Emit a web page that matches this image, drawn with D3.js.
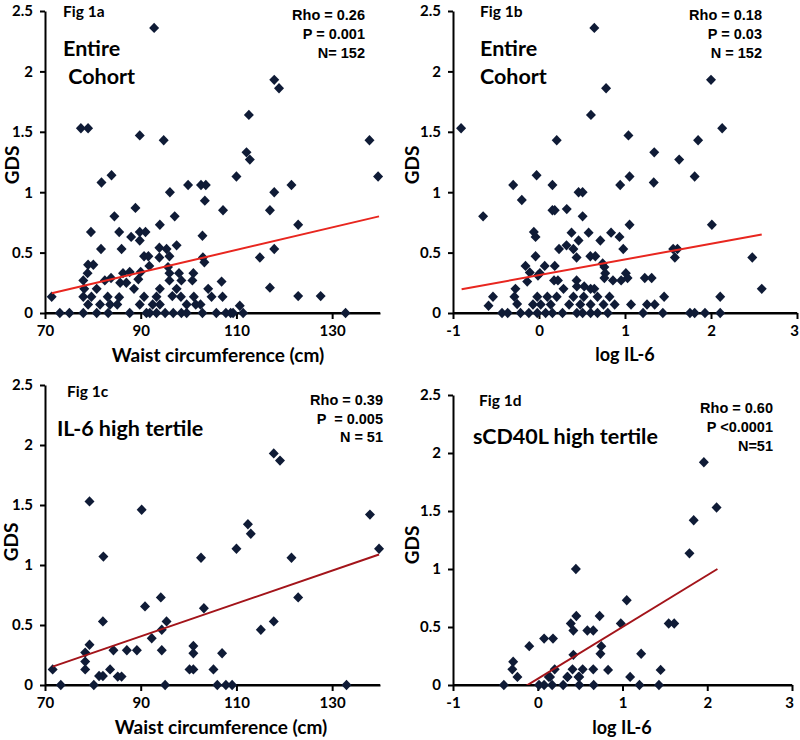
<!DOCTYPE html>
<html><head><meta charset="utf-8">
<script src="https://cdn.jsdelivr.net/npm/d3@7"></script>
<style>
body{margin:0;background:#fff;}
svg{display:block;}
</style></head><body>
<svg id="chart" width="800" height="740"></svg>
<script>
// ---------------- DATA ----------------
const gdsTicks = [0, 0.5, 1, 1.5, 2, 2.5];
const waistTicks = [70, 90, 110, 130];
const il6Ticks = [-1, 0, 1, 2, 3];

// Fig 1a: waist circumference (cm) vs GDS, entire cohort
const waistAll = [
  [92.8,2.36],[117.9,1.93],[118.9,1.86],[112.6,1.64],[77.5,1.53],[79.0,1.53],[89.8,1.47],[94.8,1.43],[137.8,1.43],[112.1,1.33],[112.8,1.27],
  [139.6,1.13],[110.0,1.13],[83.9,1.14],[81.8,1.08],[99.9,1.06],[102.6,1.06],[103.6,1.06],[121.5,1.06],[96.1,1.0],[117.9,1.0],[103.4,0.93],
  [107.2,0.85],[117.0,0.85],[88.9,0.87],[84.5,0.8],[97.1,0.8],[94.0,0.73],[122.9,0.73],
  [79.6,0.67],[85.5,0.67],[89.8,0.67],[91.0,0.67],[88.0,0.63],[89.8,0.6],[102.9,0.64],
  [81.7,0.53],[86.0,0.53],[93.9,0.54],[95.4,0.53],[97.5,0.56],[117.9,0.53],
  [90.7,0.47],[91.6,0.47],[93.9,0.46],[96.0,0.47],[103.0,0.46],[103.3,0.42],[114.9,0.46],
  [79.0,0.4],[80.1,0.4],[91.8,0.39],[95.7,0.38],
  [78.9,0.33],[90.0,0.34],[98.0,0.33],[101.0,0.33],[86.3,0.33],[87.7,0.34],[96.0,0.33],
  [78.0,0.27],[83.8,0.29],[85.7,0.25],[87.0,0.25],[89.5,0.28],[96.0,0.27],[100.8,0.27],[106.9,0.26],[82.5,0.27],[98.5,0.27],
  [78.2,0.2],[80.8,0.2],[88.6,0.2],[94.0,0.2],[97.5,0.2],[104.1,0.2],[117.0,0.21],
  [71.4,0.135],[78.0,0.135],[79.7,0.135],[83.1,0.135],[85.5,0.13],[90.7,0.135],[93.3,0.135],[96.6,0.14],[98.4,0.135],[101.1,0.135],
  [104.8,0.135],[107.1,0.135],[122.9,0.14],[127.6,0.14],
  [79.0,0.07],[81.5,0.07],[83.6,0.07],[85.1,0.07],[89.8,0.07],[92.5,0.07],[94.0,0.07],[99.6,0.07],[101.5,0.07],[102.5,0.07],[110.7,0.06],
  [73.1,0],[75.1,0],[78.0,0],[80.8,0],[83.2,0],[87.7,0],[91.2,0],[91.9,0],[93.3,0],[95.1,0],[96.8,0],[98.5,0],[99.6,0],[102.9,0],
  [105.8,0],[107.8,0],[108.8,0],[109.3,0],[111.4,0],[132.8,0]
];

// Fig 1b: log IL-6 vs GDS, entire cohort
const il6All = [
  [-0.906,1.53],[0.643,2.36],[0.78,1.86],[0.604,1.64],[2.0,1.93],[2.13,1.53],[0.206,1.43],[1.04,1.47],[1.85,1.43],[1.34,1.33],[1.63,1.27],
  [-0.028,1.14],[-0.3,1.06],[0.156,1.06],[-0.2,0.935],[0.46,1.0],[0.507,1.0],[0.944,1.06],[1.053,1.13],[1.334,1.08],[1.81,1.13],
  [-0.65,0.80],[0.156,0.85],[0.183,0.85],[0.323,0.86],[0.507,0.80],
  [-0.06,0.67],[-0.04,0.63],[0.378,0.665],[0.577,0.665],[0.838,0.665],[0.936,0.63],[1.053,0.73],[2.01,0.73],
  [0.233,0.53],[0.32,0.56],[0.40,0.53],[0.46,0.60],[0.713,0.60],[0.98,0.53],[1.58,0.46],[1.61,0.53],[1.56,0.53],[2.48,0.46],
  [-0.04,0.47],[0.437,0.46],[0.597,0.47],[0.655,0.47],
  [-0.157,0.39],[0.066,0.39],[0.183,0.39],[0.74,0.41],[0.76,0.38],
  [-0.107,0.335],[0.01,0.33],[-0.012,0.31],[0.77,0.33],[1.01,0.33],
  [1.23,0.29],[1.31,0.29],[1.03,0.29],[0.86,0.27],[0.76,0.29],[0.175,0.27],[0.22,0.27],[-0.137,0.26],[0.437,0.27],[0.955,0.27],
  [-0.274,0.20],[0.285,0.20],[0.44,0.22],[0.526,0.22],[0.60,0.20],[0.643,0.20],[2.59,0.20],
  [-0.535,0.135],[-0.286,0.135],[-0.02,0.135],[0.097,0.135],[0.206,0.135],[0.40,0.135],[0.52,0.135],[0.68,0.135],[0.82,0.135],[1.455,0.135],[2.107,0.135],
  [-0.587,0.06],[-0.254,0.075],[-0.07,0.07],[0.02,0.07],[0.136,0.07],[0.35,0.07],[0.48,0.07],[0.60,0.07],[0.75,0.07],[0.88,0.07],[1.07,0.07],[1.256,0.07],[1.345,0.07],
  [-0.43,0],[-0.364,0],[-0.215,0],[-0.118,0],[-0.02,0],[0.077,0],[0.156,0],[0.273,0],[0.44,0],[0.507,0],[0.6,0],[0.68,0],[0.8,0],
  [1.21,0],[1.44,0],[1.755,0],[1.81,0],[1.93,0],[2.107,0]
];

// Fig 1c: waist circumference vs GDS, IL-6 high tertile
const waistHighIL6 = [
  [71.6,0.13],[73.3,0],[78.4,0.13],[78.4,0.195],[78.4,0.27],[79.3,0.335],[79.3,1.53],[80.2,0],[81.3,0.075],[82.1,0.075],
  [82.1,0.53],[82.2,1.07],[83.6,0.13],[84.3,0.29],[85.2,0.07],[86.0,0.07],[87.1,0.29],[89.2,0.29],[90.2,1.46],[90.9,0.655],
  [92.3,0.39],[94.2,0.73],[94.4,0.46],[94.4,0.29],[95.1,0],[95.4,0.53],[100.2,0.13],[101.0,0.325],[101.0,0.265],[101.0,0.13],
  [102.6,1.06],[103.2,0.64],[105.2,0.13],[106.0,0],[107.0,0.265],[107.8,0],[109.1,0],[110.0,1.135],[112.4,1.34],[113.0,1.26],
  [115.1,0.46],[117.8,1.93],[119.1,1.87],[117.8,0.53],[121.5,1.06],[122.9,0.73],[133.0,0],[137.9,1.42],[139.8,1.135]
];

// Fig 1d: log IL-6 vs GDS, sCD40L high tertile
const il6HighCD40 = [
  [-0.40,0],[-0.29,0.20],[-0.30,0.135],[-0.24,0.07],[-0.10,0.335],[0.015,0],[0.075,0],[0.17,0],[0.075,0.40],[0.18,0.40],
  [0.13,0.07],[0.2,0.135],[0.30,0],[0.35,0.07],[0.39,0.53],[0.41,0.135],[0.42,0.26],[0.42,0.47],[0.45,1.0],[0.455,0.595],
  [0.49,0],[0.49,0.07],[0.53,0.135],[0.585,0.47],[0.655,0.47],[0.655,0.135],[0.66,0],[0.73,0.595],[0.75,0.335],[0.74,0.27],
  [0.83,0.13],[0.98,0.53],[1.05,0.73],[1.09,0.07],[1.20,0],[1.22,0.27],[1.43,0],[1.45,0.13],[1.545,0.53],[1.61,0.53],
  [1.79,1.135],[1.84,1.42],[1.96,1.92],[2.11,1.53],[0.145,0.07],[0.48,0.07],[0.35,0.07]
];

// Linear trend lines (endpoints)
const trendA = [[71.4,0.163],[139.8,0.80]];
const trendB = [[-0.9,0.196],[2.59,0.65]];
const trendC = [[71.6,0.153],[139.8,1.087]];
const trendD = [[-0.40,-0.125],[2.12,1.0]];

const figLabels = ["Fig 1a", "Fig 1b", "Fig 1c", "Fig 1d"];
const groupLabels = [["Entire", " Cohort"], ["Entire", "Cohort"], ["IL-6 high tertile"], ["sCD40L high tertile"]];
const statsLabels = [
  ["Rho = 0.26", "P = 0.001", "N= 152"],
  ["Rho = 0.18", "P = 0.03", "N = 152"],
  ["Rho = 0.39", "P  = 0.005", "N = 51"],
  ["Rho = 0.60", "P <0.0001", "N=51"]
];
const xTitles = ["Waist circumference (cm)", "log IL-6", "Waist circumference (cm)", "log IL-6"];
const yTitle = "GDS";

// ---------------- LAYOUT ----------------
const panels = [
  {data: waistAll, trend: trendA, xDom:[70,140], xTicks: waistTicks, l:45, r:380, t:11, b:313, line:"#e8261f",
   fig:[63,17], grp:[[63,56],[63,84]], stats:[365,20,19], gdsX:19, gdsY:165, xTitleX:218, xTitleY:362, xTitleSize:19},
  {data: il6All, trend: trendB, xDom:[-1,3], xTicks: il6Ticks, l:453, r:797, t:11, b:313, line:"#e8261f",
   fig:[480,17], grp:[[480,56],[480,84]], stats:[762,20,19], gdsX:419, gdsY:165, xTitleX:625, xTitleY:361, xTitleSize:18},
  {data: waistHighIL6, trend: trendC, xDom:[70,140], xTicks: waistTicks, l:45, r:380, t:385, b:685, line:"#a3141a",
   fig:[67,397], grp:[[57,436]], stats:[383,405,18.5], gdsX:18, gdsY:542, xTitleX:221, xTitleY:734, xTitleSize:19},
  {data: il6HighCD40, trend: trendD, xDom:[-1,3], xTicks: il6Ticks, l:453, r:792, t:395, b:685, line:"#a3141a",
   fig:[479,406], grp:[[473,444]], stats:[773,413,19], gdsX:419, gdsY:545, xTitleX:622, xTitleY:734, xTitleSize:18}
];

const svg = d3.select("#chart");
const tickFont = "Lato, 'DejaVu Sans', sans-serif";
const statFont = "'Liberation Sans', Arial, sans-serif";

panels.forEach((p, i) => {
  const x = d3.scaleLinear().domain(p.xDom).range([p.l, p.r]);
  const y = d3.scaleLinear().domain([0, 2.5]).range([p.b, p.t]);
  const g = svg.append("g");

  const clipId = "clip" + i;
  svg.append("clipPath").attr("id", clipId).append("rect")
    .attr("x", p.l).attr("y", p.t).attr("width", p.r - p.l).attr("height", p.b - p.t);

  const yAx = g.append("g").attr("transform", `translate(${p.l},0)`)
    .call(d3.axisLeft(y).tickValues(gdsTicks).tickSize(5).tickSizeOuter(0).tickPadding(7).tickFormat(d => d));
  const xAx = g.append("g").attr("transform", `translate(0,${p.b})`)
    .call(d3.axisBottom(x).tickValues(p.xTicks).tickSize(6).tickSizeOuter(0).tickPadding(6).tickFormat(d => d));
  [yAx, xAx].forEach(ax => {
    ax.select(".domain").attr("stroke", "#000").attr("stroke-width", 2);
    ax.selectAll(".tick line").attr("stroke", "#000").attr("stroke-width", 2);
    ax.selectAll(".tick text").attr("fill", "#000").style("font-family", tickFont)
      .style("font-weight", "bold").style("font-size", "15px");
  });
  // keep the rightmost tick label inside the picture
  xAx.selectAll(".tick text").filter(d => x(d) > 785).attr("dx", -3);
  g.append("line").attr("x1", p.l).attr("x2", p.r).attr("y1", p.b).attr("y2", p.b)
    .attr("stroke", "#000").attr("stroke-width", 2);

  g.append("g").selectAll("path").data(p.data).join("path")
    .attr("d", "M0,-5.2L5,0L0,5.2L-5,0Z")
    .attr("transform", d => `translate(${x(d[0])},${y(d[1])})`)
    .attr("fill", "#0f1b36");

  g.append("line").attr("clip-path", `url(#${clipId})`)
    .attr("x1", x(p.trend[0][0])).attr("y1", y(p.trend[0][1]))
    .attr("x2", x(p.trend[1][0])).attr("y2", y(p.trend[1][1]))
    .attr("stroke", p.line).attr("stroke-width", 2);

  g.append("text").attr("x", p.fig[0]).attr("y", p.fig[1]).text(figLabels[i])
    .style("font-family", tickFont).style("font-weight", "bold").style("font-size", "15.5px");
  groupLabels[i].forEach((t, k) => {
    g.append("text").attr("x", p.grp[k][0]).attr("y", p.grp[k][1]).text(t)
      .style("white-space", "pre")
      .style("font-family", tickFont).style("font-weight", "bold").style("font-size", "21.5px");
  });
  statsLabels[i].forEach((t, k) => {
    g.append("text").attr("x", p.stats[0]).attr("y", p.stats[1] + k * p.stats[2]).text(t)
      .attr("text-anchor", "end").style("white-space", "pre")
      .style("font-family", statFont).style("font-weight", "bold").style("font-size", "14.5px");
  });
  g.append("text").attr("transform", `translate(${p.gdsX},${p.gdsY}) rotate(-90)`)
    .attr("text-anchor", "middle").text(yTitle)
    .style("font-family", tickFont).style("font-weight", "bold").style("font-size", "19px");
  g.append("text").attr("x", p.xTitleX).attr("y", p.xTitleY).attr("text-anchor", "middle").text(xTitles[i])
    .style("font-family", tickFont).style("font-weight", "bold").style("font-size", p.xTitleSize + "px");
});
</script>
</body></html>
